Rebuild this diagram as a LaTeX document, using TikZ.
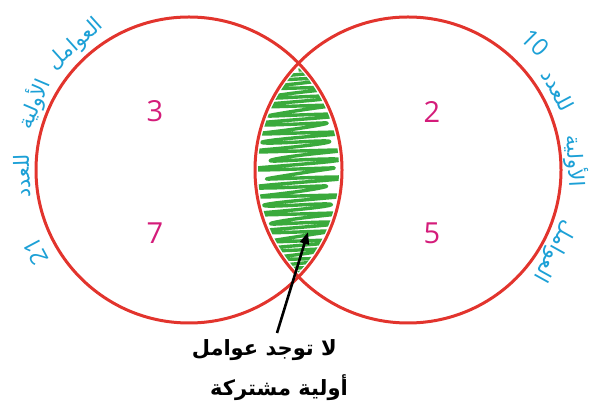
\documentclass[tikz,border=0pt]{standalone}
\usepackage{fontspec}
\setmainfont{Open Sans}
\newfontfamily\arabicfont[Script=Arabic]{DejaVu Sans}
\TeXXeTstate=1
\usetikzlibrary{arrows.meta, calc}
\definecolor{circred}{RGB}{226,52,45}
\definecolor{nummag}{RGB}{212,28,122}
\definecolor{labblue}{RGB}{28,160,214}
\definecolor{scribgreen}{RGB}{58,170,60}
\tikzset{
  setcirc/.style={draw=circred, line width=3pt},
  num/.style={font=\fontsize{29}{34}\selectfont, text=nummag, inner sep=0pt},
  arclbl/.style={font=\arabicfont\fontsize{21}{25}\selectfont, text=labblue,
                 inner sep=0pt},
  arcnum/.style={arclbl, font=\fontsize{24}{28}\selectfont},
  note/.style={font=\arabicfont\bfseries\fontsize{21}{25}\selectfont,
               inner sep=0pt},
  arr/.style={-{Triangle[length=12pt,width=9pt]}, line width=2.6pt},
}

\begin{document}
\begin{tikzpicture}[x=1pt, y=1pt]
  \useasboundingbox (0,0) rectangle (593,417);
  \coordinate (L) at (189,247);
  \coordinate (R) at (408,247);

  % scribble in the overlap
  \begin{scope}
    \clip (L) circle[radius=150pt];
    \clip (R) circle[radius=150pt];
    \draw[scribgreen, line width=3.4pt, line join=round]
      plot[domain=0:203, samples=420]
      ({298.5 + 56*sin(\x*40)*(0.75+0.25*sin(\x*23+40))}, {347 - \x + 3*sin(\x*40)});
  \end{scope}

  % the two sets
  \draw[setcirc] (L) circle[radius=153pt];
  \draw[setcirc] (R) circle[radius=153pt];

  % members
  \node[num] (n3) at (155,306) {3};
  \node[num] (n7) at (155,184) {7};
  \node[num] (n2) at (432,305) {2};
  \node[num] (n5) at (432,184) {5};

  % label round the left set
  \node[arclbl, rotate=42]  (l1) at ($(L)+(132:169)$) {\beginR العوامل\endR};
  \node[arclbl, rotate=67]  (l2) at ($(L)+(157:169)$) {\beginR الأولية\endR};
  \node[arclbl, rotate=92]  (l3) at ($(L)+(182:167)$) {\beginR للعدد\endR};
  \node[arcnum, rotate=118] (l4) at ($(L)+(208:174)$) {21};

  % label round the right set
  \node[arcnum, rotate=-45]  (r1) at ($(R)+(45:180)$)  {10};
  \node[arclbl, rotate=-62]  (r2) at ($(R)+(28:170)$)  {\beginR للعدد\endR};
  \node[arclbl, rotate=-87]  (r3) at ($(R)+(3:168)$)   {\beginR الأولية\endR};
  \node[arclbl, rotate=-119] (r4) at ($(R)+(-29:167)$) {\beginR العوامل\endR};

  % note and arrow
  \node[note, anchor=east] (t1) at (337,67) {\beginR لا توجد عوامل\endR};
  \node[note, anchor=east] (t2) at (348,29) {\beginR أولية مشتركة\endR};
  \coordinate (tail) at (277,84);
  \coordinate (tip) at (308,185);
  \draw[arr] (tail) -- (tip);
\end{tikzpicture}
\end{document}
